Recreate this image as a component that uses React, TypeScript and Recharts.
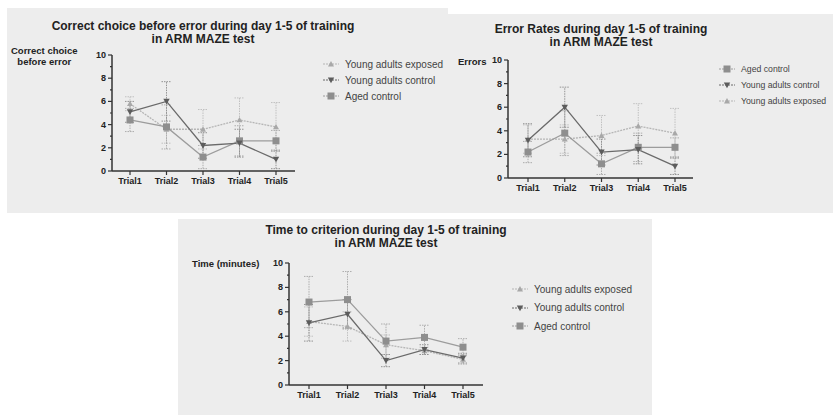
import React from 'react';
import { LineChart, Line, XAxis, YAxis, ErrorBar } from 'recharts';

const trials = ['Trial1', 'Trial2', 'Trial3', 'Trial4', 'Trial5'];
const yTicks = [0, 1, 2, 3, 4, 5, 6, 7, 8, 9, 10];

// Correct choice before error
const choiceExposed = [5.8, 3.6, 3.6, 4.4, 3.8];
const choiceExposedErr = [0.6, 1.2, 1.7, 1.9, 2.1];
const choiceControl = [5.1, 6.0, 2.2, 2.4, 1.0];
const choiceControlErr = [0.9, 1.7, 1.1, 1.2, 0.8];
const choiceAged = [4.4, 3.8, 1.2, 2.6, 2.6];
const choiceAgedErr = [1.0, 1.9, 1.0, 1.3, 0.9];

// Error rates
const errorsAged = [2.2, 3.8, 1.2, 2.6, 2.6];
const errorsAgedErr = [0.9, 1.9, 0.9, 1.2, 0.8];
const errorsControl = [3.2, 6.0, 2.2, 2.4, 1.0];
const errorsControlErr = [1.4, 1.7, 1.1, 1.2, 0.7];
const errorsExposed = [3.3, 3.3, 3.6, 4.4, 3.8];
const errorsExposedErr = [1.2, 1.2, 1.7, 1.9, 2.1];

// Time to criterion
const timeExposed = [5.2, 4.8, 3.3, 2.8, 2.1];
const timeExposedErr = [1.2, 1.2, 0.8, 0.3, 0.4];
const timeControl = [5.1, 5.8, 2.0, 2.9, 2.2];
const timeControlErr = [1.5, 1.2, 0.5, 0.4, 0.4];
const timeAged = [6.8, 7.0, 3.6, 3.9, 3.1];
const timeAgedErr = [2.1, 2.3, 1.4, 1.0, 0.7];

const FONT = '"Liberation Sans", Arial, sans-serif';
const BG = '#ededed';

type Group = 'exposed' | 'control' | 'aged';

const groupNames: Record<Group, string> = {
  exposed: 'Young adults exposed',
  control: 'Young adults control',
  aged: 'Aged control',
};

const groupStyle: Record<Group, { stroke: string; fill: string; dash?: string; err: string; shape: string; size: number }> = {
  exposed: { stroke: '#b5b5b5', fill: '#a8a8a8', dash: '2 1', err: '#c0c0c0', shape: 'up', size: 3 },
  control: { stroke: '#6a6a6a', fill: '#5c5c5c', err: '#939393', shape: 'down', size: 3.2 },
  aged: { stroke: '#9c9c9c', fill: '#8e8e8e', err: '#adadad', shape: 'square', size: 3.5 },
};

const Marker = ({ cx, cy, group }: { cx: number; cy: number; group: Group }) => {
  const s = groupStyle[group];
  const r = s.size;
  if (s.shape === 'square') {
    return <rect x={cx - r} y={cy - r} width={r * 2} height={r * 2} fill={s.fill} />;
  }
  const d =
    s.shape === 'up'
      ? `M${cx},${cy - r} L${cx + r},${cy + r * 0.8} L${cx - r},${cy + r * 0.8} Z`
      : `M${cx},${cy + r} L${cx + r},${cy - r * 0.8} L${cx - r},${cy - r * 0.8} Z`;
  return <path d={d} fill={s.fill} />;
};

const makeDot = (group: Group) => (p: any) => (
  <g key={`${group}-${p.index}`}>
    <Marker cx={p.cx} cy={p.cy} group={group} />
  </g>
);

const YTick = (p: any) => {
  const v = p.payload.value as number;
  const major = v % 2 === 0;
  return (
    <g>
      <line x1={p.x - (major ? 4 : 2)} x2={p.x} y1={p.y} y2={p.y} stroke="#333" strokeWidth={1.2} />
      {major && (
        <text x={p.x - 6} y={p.y} dy={3} textAnchor="end" fontSize={9} fontWeight="bold" fill="#222" fontFamily={FONT}>
          {v}
        </text>
      )}
    </g>
  );
};

interface SeriesSpec {
  group: Group;
  values: number[];
  errors: number[];
}

interface PanelProps {
  left: number;
  top: number;
  width: number;
  height: number;
  title: string[];
  titleX: number;
  titleY: number;
  titleSize: number;
  yLabel: string[];
  yLabelX: number;
  yLabelY: number;
  yLabelAlign: 'center' | 'left';
  plot: { x: number; y: number; w: number; h: number; padL: number; padR: number };
  legend: { x: number; y: number; gap: number; size: number };
  series: SeriesSpec[];
  drawOrder: Group[];
}

const Panel = (props: PanelProps) => {
  const { plot, series } = props;
  const rows = trials.map((trial, i) => {
    const row: any = { trial };
    series.forEach((s) => {
      row[s.group] = s.values[i];
      row[s.group + 'Err'] = s.errors[i];
    });
    return row;
  });
  const yAxisW = 30;
  const xAxisH = 20;
  const margin = {
    top: plot.y,
    left: plot.x - yAxisW,
    right: props.width - plot.x - plot.w,
    bottom: props.height - plot.y - plot.h - xAxisH,
  };
  return (
    <div
      style={{
        position: 'absolute',
        left: props.left,
        top: props.top,
        width: props.width,
        height: props.height,
        background: BG,
        overflow: 'hidden',
        fontFamily: FONT,
      }}
    >
      <div
        style={{
          position: 'absolute',
          left: props.titleX - 200,
          top: props.titleY,
          width: 400,
          textAlign: 'center',
          fontWeight: 'bold',
          fontSize: props.titleSize,
          lineHeight: '13px',
          color: '#222',
        }}
      >
        {props.title.map((t) => (
          <div key={t}>{t}</div>
        ))}
      </div>
      <div
        style={{
          position: 'absolute',
          left: props.yLabelX,
          top: props.yLabelY,
          fontWeight: 'bold',
          fontSize: 9.5,
          lineHeight: '11px',
          color: '#222',
          textAlign: props.yLabelAlign,
          whiteSpace: 'nowrap',
        }}
      >
        {props.yLabel.map((t) => (
          <div key={t}>{t}</div>
        ))}
      </div>
      <div style={{ position: 'absolute', left: 0, top: 0 }}>
        <LineChart width={props.width} height={props.height} data={rows} margin={margin}>
          <XAxis
            dataKey="trial"
            height={xAxisH}
            padding={{ left: plot.padL, right: plot.padR }}
            stroke="#333"
            axisLine={{ stroke: '#333', strokeWidth: 1.5 }}
            tickLine={{ stroke: '#333', strokeWidth: 1.2 }}
            tickSize={4}
            tickMargin={3}
            tick={{ fontSize: 9, fontWeight: 'bold', fill: '#222', fontFamily: FONT }}
            interval={0}
          />
          <YAxis
            type="number"
            domain={[0, 10]}
            ticks={yTicks}
            width={yAxisW}
            interval={0}
            axisLine={{ stroke: '#333', strokeWidth: 1.5 }}
            tickLine={false}
            tickSize={0}
            tickMargin={0}
            tick={<YTick />}
          />
          {props.drawOrder.map((g) => {
            const st = groupStyle[g];
            return (
              <Line
                key={g}
                dataKey={g}
                name={groupNames[g]}
                stroke={st.stroke}
                strokeWidth={1.3}
                strokeDasharray={st.dash}
                dot={makeDot(g)}
                activeDot={false}
                isAnimationActive={false}
              >
                <ErrorBar
                  dataKey={g + 'Err'}
                  direction="y"
                  width={5}
                  stroke={st.err}
                  strokeWidth={1}
                  strokeDasharray="1.5 1"
                  isAnimationActive={false}
                />
              </Line>
            );
          })}
        </LineChart>
      </div>
      <div style={{ position: 'absolute', left: props.legend.x, top: props.legend.y }}>
        {series.map((s) => (
          <div
            key={s.group}
            style={{ display: 'flex', alignItems: 'center', height: props.legend.gap, whiteSpace: 'nowrap' }}
          >
            <svg width={16} height={10} style={{ marginRight: 6 }}>
              <line
                x1={0}
                x2={16}
                y1={5}
                y2={5}
                stroke={groupStyle[s.group].stroke}
                strokeWidth={1}
                strokeDasharray="2 1"
              />
              <Marker cx={8} cy={5} group={s.group} />
            </svg>
            <span style={{ fontSize: props.legend.size, color: '#444' }}>{groupNames[s.group]}</span>
          </div>
        ))}
      </div>
    </div>
  );
};

export default function App() {
  return (
    <div style={{ position: 'absolute', left: 0, top: 0, width: 833, height: 415, background: '#fff', overflow: 'hidden' }}>
      <Panel
        left={7}
        top={8}
        width={441}
        height={205}
        title={['Correct choice before error during day 1-5 of training', 'in ARM MAZE test']}
        titleX={196}
        titleY={12}
        titleSize={12}
        yLabel={['Correct choice', 'before error']}
        yLabelX={4}
        yLabelY={37}
        yLabelAlign="center"
        plot={{ x: 105, y: 47, w: 183, h: 116, padL: 18, padR: 19 }}
        legend={{ x: 316, y: 48, gap: 16, size: 10 }}
        series={[
          { group: 'exposed', values: choiceExposed, errors: choiceExposedErr },
          { group: 'control', values: choiceControl, errors: choiceControlErr },
          { group: 'aged', values: choiceAged, errors: choiceAgedErr },
        ]}
        drawOrder={['exposed', 'aged', 'control']}
      />
      <Panel
        left={448}
        top={14}
        width={385}
        height={199}
        title={['Error Rates during day 1-5 of training', 'in ARM MAZE test']}
        titleX={153}
        titleY={9}
        titleSize={12}
        yLabel={['Errors']}
        yLabelX={10}
        yLabelY={42}
        yLabelAlign="left"
        plot={{ x: 60, y: 46, w: 185, h: 118, padL: 20, padR: 18 }}
        legend={{ x: 271, y: 47, gap: 16, size: 8.7 }}
        series={[
          { group: 'aged', values: errorsAged, errors: errorsAgedErr },
          { group: 'control', values: errorsControl, errors: errorsControlErr },
          { group: 'exposed', values: errorsExposed, errors: errorsExposedErr },
        ]}
        drawOrder={['exposed', 'aged', 'control']}
      />
      <Panel
        left={178}
        top={219}
        width={474}
        height={196}
        title={['Time to criterion during day 1-5 of training', 'in ARM MAZE test']}
        titleX={208}
        titleY={5}
        titleSize={12}
        yLabel={['Time (minutes)']}
        yLabelX={14}
        yLabelY={39}
        yLabelAlign="left"
        plot={{ x: 111, y: 44, w: 194, h: 122, padL: 20, padR: 20 }}
        legend={{ x: 334, y: 61, gap: 18.5, size: 10 }}
        series={[
          { group: 'exposed', values: timeExposed, errors: timeExposedErr },
          { group: 'control', values: timeControl, errors: timeControlErr },
          { group: 'aged', values: timeAged, errors: timeAgedErr },
        ]}
        drawOrder={['exposed', 'control', 'aged']}
      />
    </div>
  );
}
